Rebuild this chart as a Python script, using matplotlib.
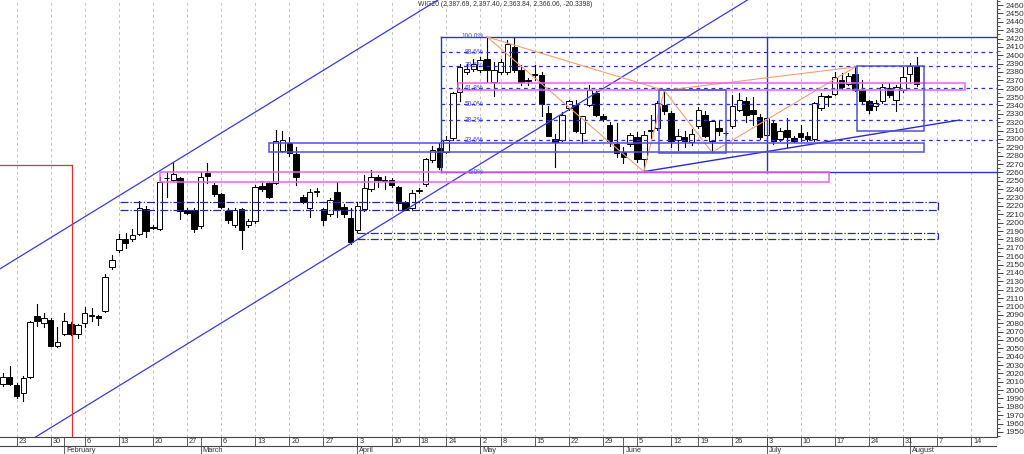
import numpy as np
import pandas as pd
import matplotlib.pyplot as plt
from matplotlib.patches import Rectangle

# sesje GPW 2017 (bez swiat), z zapasem dni w przyszlosc
swieta = ['2017-04-14', '2017-04-17', '2017-05-01', '2017-05-03', '2017-06-15']
dni = pd.bdate_range('2017-01-19', '2017-08-25')
dni = dni[~dni.isin(pd.to_datetime(swieta))]

# WIG20 OHLC, 19.01 - 02.08
opens = [2007, 2016, 2006, 1996, 2016, 2088, 2080, 2084, 2053, 2067, 2079, 2067, 2080, 2089, 2088,
         2094, 2147, 2167, 2181, 2181, 2187, 2216, 2194, 2193, 2253, 2251, 2253, 2215, 2215, 2196,
         2259, 2245, 2234, 2214, 2197, 2216, 2197, 2202, 2244, 2247, 2248, 2286, 2295, 2282, 2231,
         2217, 2237, 2216, 2210, 2237, 2219, 2205, 2191, 2216, 2240, 2255, 2251, 2251, 2243, 2225,
         2218, 2238, 2246, 2275, 2289, 2285, 2301, 2356, 2380, 2383, 2382, 2396, 2368, 2380, 2380,
         2410, 2382, 2369, 2377, 2376, 2331, 2300, 2299, 2337, 2341, 2307, 2341, 2355, 2327, 2317,
         2294, 2284, 2294, 2302, 2276, 2309, 2313, 2341, 2331, 2299, 2302, 2296, 2315, 2329, 2297,
         2313, 2307, 2315, 2335, 2345, 2335, 2326, 2305, 2319, 2300, 2311, 2301, 2307, 2304, 2300,
         2337, 2350, 2354, 2370, 2366, 2378, 2358, 2345, 2339, 2345, 2361, 2346, 2358, 2378, 2387.69]
highs = [2021, 2029, 2008, 2017, 2083, 2103, 2092, 2086, 2075, 2092, 2081, 2079, 2099, 2098, 2090,
         2139, 2161, 2187, 2188, 2192, 2226, 2220, 2197, 2254, 2261, 2272, 2255, 2218, 2217, 2260,
         2271, 2248, 2236, 2218, 2217, 2218, 2204, 2245, 2250, 2249, 2311, 2310, 2302, 2290, 2233,
         2240, 2241, 2218, 2229, 2249, 2222, 2217, 2225, 2257, 2263, 2257, 2256, 2253, 2244, 2226,
         2239, 2241, 2277, 2292, 2295, 2304, 2356, 2390, 2390, 2396, 2398, 2422, 2392, 2396, 2418,
         2422, 2388, 2373, 2388, 2380, 2339, 2306, 2332, 2346, 2346, 2328, 2364, 2357, 2330, 2320,
         2319, 2290, 2307, 2308, 2310, 2329, 2345, 2358, 2333, 2312, 2310, 2312, 2338, 2333, 2322,
         2323, 2310, 2353, 2355, 2350, 2350, 2330, 2326, 2321, 2313, 2325, 2303, 2317, 2308, 2344,
         2355, 2352, 2380, 2379, 2379, 2386, 2370, 2347, 2346, 2366, 2367, 2364, 2386, 2391, 2397.40]
lows = [2005, 2006, 1990, 1987, 2015, 2076, 2075, 2053, 2052, 2066, 2066, 2062, 2075, 2082, 2078,
        2093, 2145, 2165, 2170, 2178, 2185, 2183, 2192, 2191, 2231, 2250, 2204, 2210, 2189, 2194,
        2247, 2232, 2217, 2200, 2195, 2169, 2195, 2200, 2238, 2229, 2246, 2284, 2280, 2245, 2223,
        2207, 2232, 2197, 2208, 2207, 2207, 2175, 2189, 2214, 2238, 2243, 2240, 2243, 2215, 2215,
        2216, 2236, 2244, 2273, 2264, 2283, 2299, 2345, 2378, 2381, 2380, 2368, 2351, 2378, 2378,
        2380, 2365, 2365, 2370, 2327, 2303, 2266, 2297, 2335, 2308, 2295, 2339, 2327, 2322, 2292,
        2279, 2271, 2292, 2273, 2261, 2301, 2311, 2330, 2290, 2287, 2290, 2293, 2313, 2302, 2284,
        2305, 2305, 2313, 2333, 2320, 2317, 2300, 2303, 2294, 2298, 2291, 2296, 2297, 2297, 2298,
        2335, 2339, 2352, 2360, 2364, 2357, 2342, 2331, 2335, 2343, 2350, 2334, 2356, 2367, 2363.84]
closes = [2016, 2007, 1993, 2015, 2081, 2082, 2086, 2053, 2058, 2082, 2067, 2078, 2092, 2090, 2086,
          2135, 2156, 2181, 2176, 2185, 2217, 2190, 2195, 2249, 2253, 2258, 2214, 2212, 2192, 2255,
          2256, 2234, 2219, 2203, 2215, 2191, 2202, 2243, 2240, 2231, 2297, 2299, 2283, 2254, 2225,
          2237, 2238, 2203, 2227, 2216, 2210, 2177, 2220, 2241, 2255, 2251, 2250, 2245, 2223, 2215,
          2235, 2238, 2276, 2287, 2266, 2299, 2355, 2386, 2383, 2390, 2394, 2382, 2382, 2392, 2414,
          2382, 2368, 2370, 2378, 2342, 2303, 2296, 2329, 2345, 2309, 2327, 2358, 2329, 2324, 2297,
          2283, 2279, 2305, 2276, 2305, 2311, 2343, 2333, 2297, 2304, 2297, 2306, 2335, 2304, 2321,
          2309, 2307, 2339, 2347, 2329, 2330, 2302, 2325, 2297, 2309, 2302, 2298, 2302, 2300, 2343,
          2351, 2351, 2374, 2362, 2375, 2359, 2345, 2335, 2343, 2362, 2353, 2362, 2374, 2387, 2366.06]

tytul = 'WIG20 (2,387.69, 2,397.40, 2,363.84, 2,366.06, -20.3398)'

# narysowane obiekty (indeks sesji, cena)
kanal_gora = (25, 2272)
kanal_dol = (51, 2175)
kanal_nachylenie = 5.0
trend = [(94, 2261), (140.3, 2322.6)]
fibo_x = (64.2, 112.0)
fibo_low, fibo_high = 2260.5, 2422.0
fibo_poziomy = [0.0, 23.6, 38.2, 50.0, 61.8, 78.6, 88.6, 100.0]
zygzak = [[(71, 2422), (94, 2261), (97, 2358), (104, 2284), (125, 2386)],
          [(71, 2422), (97, 2358), (125, 2386)]]
prost_rozowe = [(66.8, 141.1, 2358.5, 2366.5), (23.0, 121.1, 2249.0, 2260.5)]
prost_niebieskie = [(39.0, 135.1, 2284.1, 2295.6), (96.2, 106.0, 2283.5, 2358.4),
                    (125.2, 135.1, 2309.8, 2387.5)]
prost_kreskowe = [(17.2, 137.1, 2215, 2225), (52.0, 137.1, 2181, 2188)]
czerwona_x, czerwona_y = 10.14, 2268.8

W, H = 1024, 454
fig = plt.figure(figsize=(W / 100, H / 100), dpi=100)
fig.patch.set_facecolor('white')
plt.rcParams['font.family'] = ['Liberation Sans', 'DejaVu Sans']

xmin, xmax = -0.42, 145.8
ax = fig.add_axes([0, 17 / H, 997 / W, 437 / H])
ax.set_xlim(xmin, xmax)
ax.set_ylim(1944, 2466)

# tygodnie i miesiace
tydz = [i for i in range(1, len(dni)) if dni[i].weekday() < dni[i - 1].weekday()]
tydz = [i for i in tydz if i < xmax - 2]
mies = [i for i in range(1, len(dni)) if dni[i].month != dni[i - 1].month and i < xmax]

for i in tydz:
    ax.axvline(i, color='#c4c4c4', lw=0.7, ls=(0, (3, 3)), zorder=0)

# swiece
n = len(opens)
for i in range(n):
    o, h, l, c = opens[i], highs[i], lows[i], closes[i]
    ax.plot([i, i], [l, h], color='black', lw=0.8, zorder=2)
    dol = min(o, c)
    wys = max(abs(c - o), 0.6)
    kol = 'black' if c < o else 'white'
    ax.add_patch(Rectangle((i - 0.4, dol), 0.8, wys, facecolor=kol, edgecolor='black',
                           lw=0.7, zorder=3))

# kanal
ax.axline(kanal_gora, slope=kanal_nachylenie, color='#3a3ae0', lw=0.9, zorder=4)
ax.axline(kanal_dol, slope=kanal_nachylenie, color='#3a3ae0', lw=0.9, zorder=4)
ax.plot([trend[0][0], trend[1][0]], [trend[0][1], trend[1][1]], color='#2a2ad0', lw=1.0, zorder=4)

# fibonacci
for p in fibo_poziomy:
    v = fibo_low + (fibo_high - fibo_low) * p / 100
    if p in (0.0, 100.0):
        ax.plot([fibo_x[0], xmax], [v, v], color='#3030d0', lw=1.0, zorder=4)
    else:
        ax.plot([fibo_x[0], xmax], [v, v], color='#3030c0', lw=0.9, ls=(0, (3, 3)), zorder=4)
    ax.text(fibo_x[0] + 6.3, v, f'{p:.1f}%', fontsize=4.8, color='#4a4aff', ha='right',
            va='center', zorder=5)
for xx in fibo_x:
    ax.plot([xx, xx], [fibo_low, fibo_high], color='#3030d0', lw=1.0, zorder=4)

for odc in zygzak:
    ax.plot([p[0] for p in odc], [p[1] for p in odc], color='#f5a070', lw=0.8, zorder=4)

for x0, x1, y0, y1 in prost_rozowe:
    ax.add_patch(Rectangle((x0, y0), x1 - x0, y1 - y0, fill=False, edgecolor='#f060f0',
                           lw=1.1, zorder=4))
for x0, x1, y0, y1 in prost_niebieskie:
    ax.add_patch(Rectangle((x0, y0), x1 - x0, y1 - y0, fill=False, edgecolor='#5050e0',
                           lw=1.1, zorder=4))
for x0, x1, y0, y1 in prost_kreskowe:
    ax.plot([x0, x1], [y1, y1], color='#2a2aa0', lw=0.9, ls='-.', zorder=4)
    ax.plot([x0, x1], [y0, y0], color='#2a2aa0', lw=0.9, ls='-.', zorder=4)
    ax.plot([x1, x1], [y0, y1], color='#2a2aa0', lw=0.9, ls='-.', zorder=4)

ax.plot([xmin, czerwona_x], [czerwona_y, czerwona_y], color='#e03030', lw=0.9, zorder=4)
ax.plot([czerwona_x, czerwona_x], [1944, czerwona_y], color='#e03030', lw=0.9, zorder=4)

ax.text(418 / 997, 1 - 5 / 437, tytul, transform=ax.transAxes, fontsize=4.9, color='#333333',
        ha='left', va='center')

# os Y po prawej
for s in ['top', 'left']:
    ax.spines[s].set_visible(False)
ax.spines['right'].set_color('#444444')
ax.spines['bottom'].set_color('#444444')
ax.spines['right'].set_linewidth(0.8)
ax.spines['bottom'].set_linewidth(0.8)
ax.yaxis.tick_right()
ax.set_yticks(np.arange(1950, 2461, 10))
ax.set_yticks(np.arange(1945, 2466, 5), minor=True)
ax.tick_params(axis='y', which='major', length=4, width=0.7, labelsize=6, pad=2,
               colors='#444444', labelcolor='#333333')
ax.tick_params(axis='y', which='minor', length=2, width=0.6, colors='#444444')
ax.set_xticks([])

# pasek dat
axd = fig.add_axes([0, 0, 997 / W, 17 / H])
axd.set_xlim(xmin, xmax)
axd.set_ylim(17, 0)
axd.axis('off')
axd.plot([xmin, xmax], [8.5, 8.5], color='#444444', lw=0.8)
for i in tydz:
    axd.plot([i, i], [0, 8.5], color='#444444', lw=0.6)
    axd.text(i + 0.3, 4.3, str(dni[i].day), fontsize=5.3, color='#333333', va='center', ha='left')
nazwy = {2: 'February', 3: 'March', 4: 'April', 5: 'May', 6: 'June', 7: 'July', 8: 'August'}
for i in mies:
    axd.plot([i, i], [0, 17], color='#444444', lw=0.6)
    axd.text(i + 0.3, 13, nazwy[dni[i].month], fontsize=5.3, color='#333333', va='center', ha='left')

fig.savefig('out.png', dpi=100)
